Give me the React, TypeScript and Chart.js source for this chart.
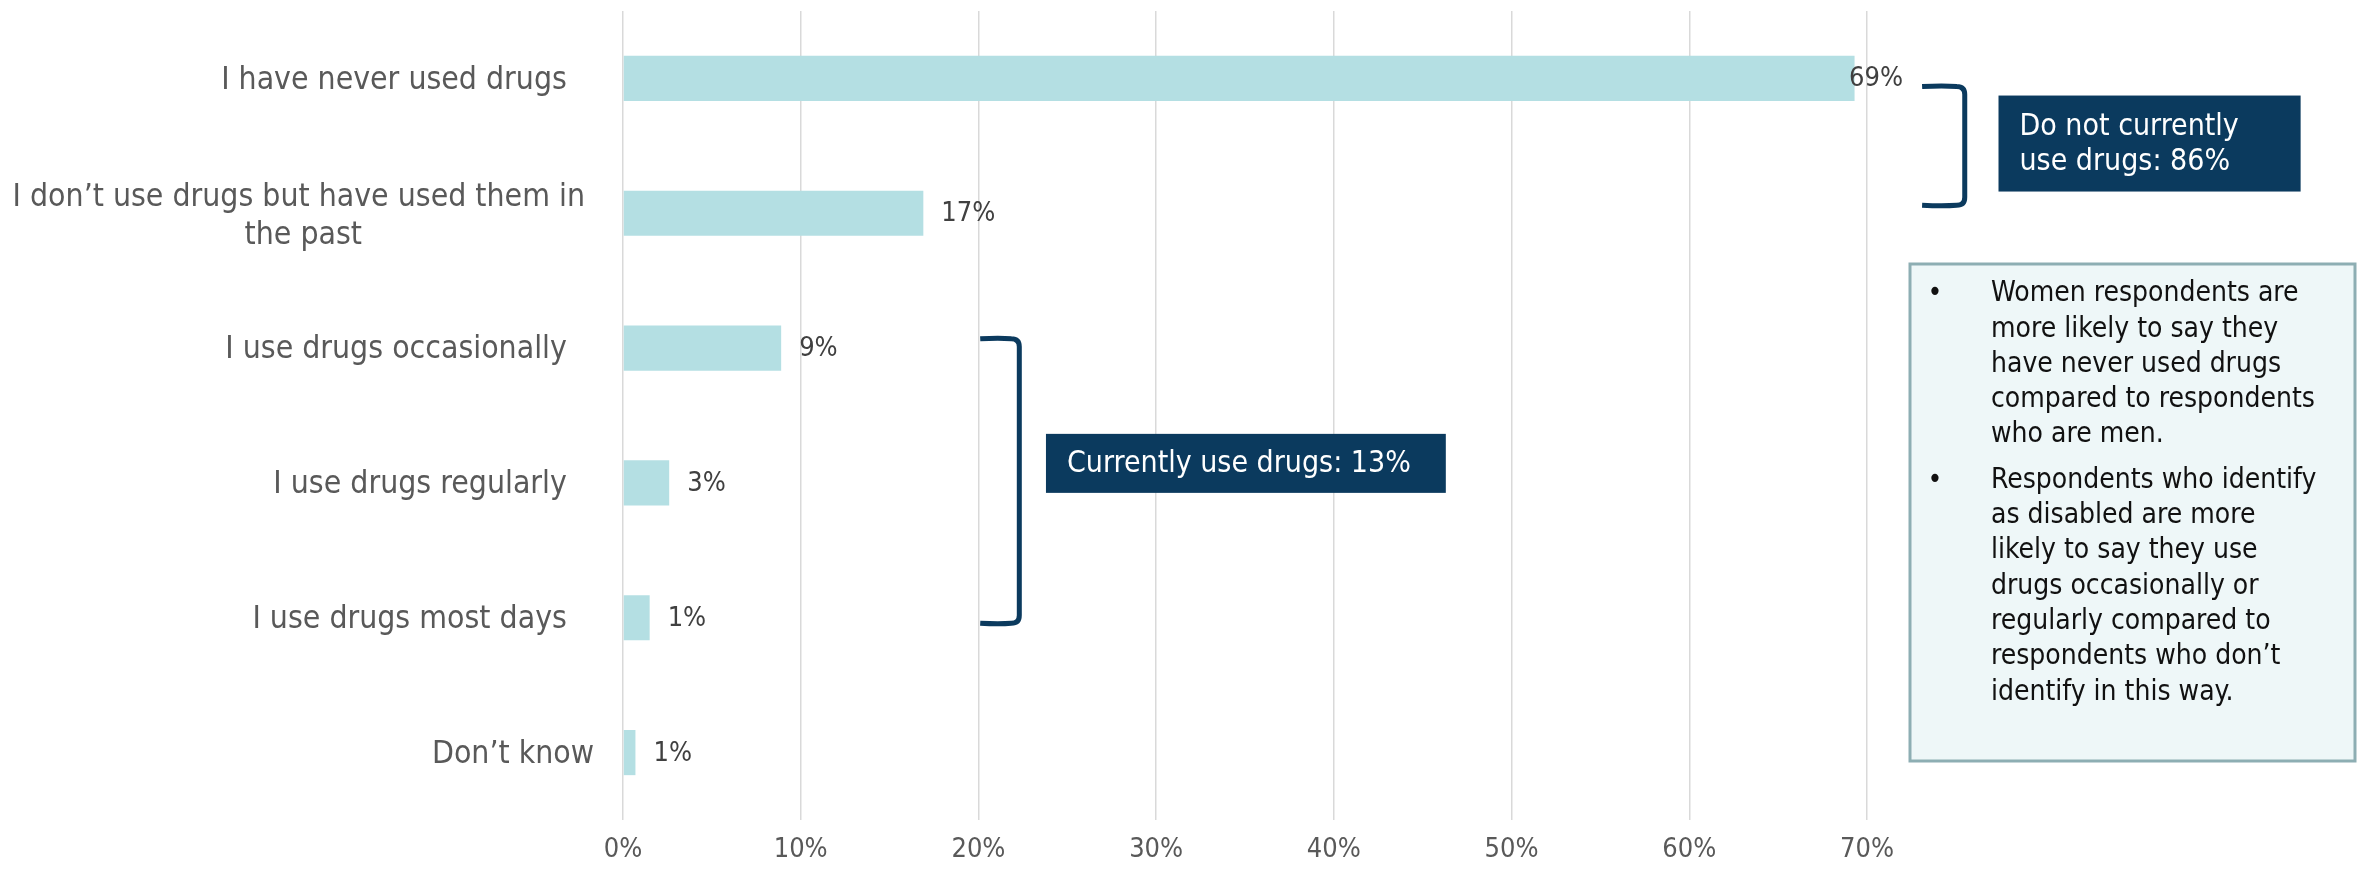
import React, { useEffect, useRef } from 'react';
import { Chart, registerables } from 'chart.js';

Chart.register(...registerables);

// ---------- data ----------
const categories: (string | string[])[] = [
  'I have never used drugs   ',
  ['I don’t use drugs but have used them in ', 'the past'],
  'I use drugs occasionally   ',
  'I use drugs regularly   ',
  'I use drugs most days   ',
  'Don’t know',
];
const values: number[] = [69.3, 16.9, 8.9, 2.6, 1.5, 0.7];
const valueLabels: string[] = ['69%', '17%', '9%', '3%', '1%', '1%'];
const xTickValues: number[] = [0, 10, 20, 30, 40, 50, 60, 70];
const xTickLabels: string[] = ['0%', '10%', '20%', '30%', '40%', '50%', '60%', '70%'];

const groupBoxTexts: string[][] = [
  ['Do not currently', 'use drugs: 86%'],
  ['Currently use drugs: 13%'],
];
const noteBullets: string[][] = [
  ['Women respondents are', 'more likely to say they', 'have never used drugs', 'compared to respondents', 'who are men.'],
  ['Respondents who identify', 'as disabled are more', 'likely to say they use', 'drugs occasionally or', 'regularly compared to', 'respondents who don’t', 'identify in this way.'],
];

// ---------- styles ----------
const FONT = '"DejaVu Sans Condensed", "DejaVu Sans", sans-serif';
const BAR_COLOR = '#B4DFE3';
const NAVY = '#0B3A5E';
const GRID = '#D9D9D9';
const LABEL_GRAY = '#595959';
const VALUE_GRAY = '#404040';

// annotation placement (in scale units: x = percent, y = category index)
const brackets = [
  { yFrom: 0.06, yTo: 0.94, xFrom: 73.1, xTo: 75.5 },
  { yFrom: 1.93, yTo: 4.04, xFrom: 20.1, xTo: 22.3 },
];
const groupBoxes = [
  { xFrom: 77.4, xTo: 94.4, yCenter: 0.483, height: 96 },
  { xFrom: 23.8, xTo: 46.3, yCenter: 2.855, height: 59 },
];

const overlayPlugin = {
  id: 'overlay',
  afterDraw(chart: any) {
    const ctx: CanvasRenderingContext2D = chart.ctx;
    const xs = chart.scales.x;
    const ys = chart.scales.y;
    const area = chart.chartArea;
    ctx.save();

    // category labels (right-aligned block, lines centred inside block)
    ctx.font = `31.7px ${FONT}`;
    ctx.fillStyle = LABEL_GRAY;
    ctx.textBaseline = 'middle';
    categories.forEach((lab, i) => {
      const lines = Array.isArray(lab) ? lab : [lab];
      const blockW = Math.max(...lines.map((l) => ctx.measureText(l).width));
      const right = area.left - 29;
      const cy = ys.getPixelForValue(i);
      const lh = 38;
      lines.forEach((l, j) => {
        const w = ctx.measureText(l).width;
        const y = cy + (j - (lines.length - 1) / 2) * lh + (lines.length > 1 ? 4 : 2);
        ctx.textAlign = 'left';
        ctx.fillText(l, right - blockW + (blockW - w) / 2, y);
      });
    });

    // value labels
    ctx.font = `27px ${FONT}`;
    ctx.fillStyle = VALUE_GRAY;
    ctx.textAlign = 'left';
    values.forEach((v, i) => {
      const w = ctx.measureText(valueLabels[i]).width;
      let x = xs.getPixelForValue(v) + 18;
      x = Math.min(x, area.right + 36 - w);
      ctx.fillText(valueLabels[i], x, ys.getPixelForValue(i) + 1);
    });

    // brackets
    ctx.strokeStyle = NAVY;
    ctx.lineWidth = 5;
    ctx.lineCap = 'butt';
    brackets.forEach((b) => {
      const x0 = xs.getPixelForValue(b.xFrom);
      const x1 = xs.getPixelForValue(b.xTo);
      const yT = ys.getPixelForValue(b.yFrom);
      const yB = ys.getPixelForValue(b.yTo);
      const r = 8;
      ctx.beginPath();
      ctx.moveTo(x0, yT);
      ctx.quadraticCurveTo((x0 + x1) / 2, yT - 1, x1 - r, yT);
      ctx.quadraticCurveTo(x1, yT, x1, yT + r);
      ctx.lineTo(x1, yB - r);
      ctx.quadraticCurveTo(x1, yB, x1 - r, yB);
      ctx.quadraticCurveTo((x0 + x1) / 2, yB + 1, x0, yB);
      ctx.stroke();
    });

    // group boxes
    groupBoxes.forEach((g, k) => {
      const x0 = xs.getPixelForValue(g.xFrom);
      const x1 = xs.getPixelForValue(g.xTo);
      const cy = ys.getPixelForValue(g.yCenter);
      ctx.fillStyle = NAVY;
      ctx.fillRect(x0, cy - g.height / 2, x1 - x0, g.height);
      ctx.fillStyle = '#FFFFFF';
      ctx.font = `30px ${FONT}`;
      ctx.textAlign = 'left';
      ctx.textBaseline = 'middle';
      const lines = groupBoxTexts[k];
      const lh = 35;
      lines.forEach((l, j) => {
        ctx.fillText(l, x0 + 21, cy + (j - (lines.length - 1) / 2) * lh + 1);
      });
    });

    // note box
    const nx = 1910, ny = 264, nw = 445, nh = 497;
    ctx.fillStyle = '#EEF7F8';
    ctx.fillRect(nx, ny, nw, nh);
    ctx.strokeStyle = '#8DAEB3';
    ctx.lineWidth = 3;
    ctx.strokeRect(nx, ny, nw, nh);
    ctx.fillStyle = '#111111';
    ctx.font = `28px ${FONT}`;
    ctx.textBaseline = 'middle';
    let y = ny + 30;
    noteBullets.forEach((para) => {
      ctx.textAlign = 'center';
      ctx.fillText('•', nx + 25, y);
      ctx.textAlign = 'left';
      para.forEach((l) => {
        ctx.fillText(l, nx + 81, y);
        y += 35.3;
      });
      y += 10;
    });

    ctx.restore();
  },
};

export default function App() {
  const canvasRef = useRef<HTMLCanvasElement | null>(null);

  useEffect(() => {
    document.body.style.margin = '0';
    const canvas = canvasRef.current;
    if (!canvas) return;
    const chart = new Chart(canvas, {
      type: 'bar',
      data: {
        labels: categories.map((c) => (Array.isArray(c) ? c.join(' ') : c)),
        datasets: [
          {
            data: values,
            backgroundColor: BAR_COLOR,
            borderWidth: 0,
            barPercentage: 0.335,
            categoryPercentage: 1,
          },
        ],
      },
      options: {
        indexAxis: 'y',
        responsive: false,
        animation: false,
        layout: { padding: { left: 623, right: 497, top: 11, bottom: 0 } },
        plugins: { legend: { display: false }, tooltip: { enabled: false } },
        scales: {
          y: {
            display: false,
            grid: { display: false },
          },
          x: {
            min: 0,
            max: 70,
            afterBuildTicks: (axis: any) => {
              axis.ticks = xTickValues.map((v) => ({ value: v }));
            },
            afterFit: (axis: any) => {
              axis.height = 53;
            },
            grid: { color: GRID, lineWidth: 1.5, drawTicks: false },
            border: { display: false },
            ticks: {
              padding: 14,
              color: LABEL_GRAY,
              font: { family: FONT, size: 27 },
              callback: (_v: any, idx: number) => xTickLabels[idx],
            },
          },
        },
      },
      plugins: [overlayPlugin],
    });
    return () => chart.destroy();
  }, []);

  return <canvas ref={canvasRef} width={2364} height={873} style={{ display: 'block' }} />;
}
